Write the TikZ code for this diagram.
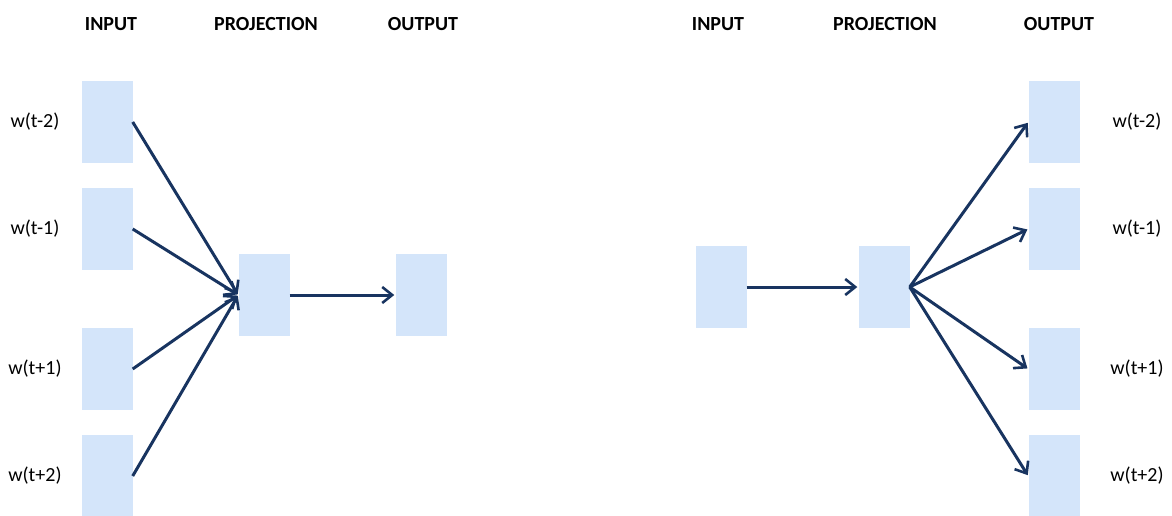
\documentclass[tikz,border=0pt]{standalone}
\usepackage{fontspec}
\setmainfont{Carlito}
\usetikzlibrary{positioning,arrows.meta}
\definecolor{boxblue}{RGB}{212,229,250}
\definecolor{navy}{RGB}{24,52,96}
\tikzset{
  vec/.style={fill=boxblue, minimum width=51pt, minimum height=82pt, inner sep=0pt},
  head/.style={font=\fontsize{20}{24}\selectfont\bfseries},
  word/.style={font=\fontsize{20}{24}\selectfont},
  arr/.style={-{Straight Barb[length=10pt, width=16pt, line width=2.6pt]}, line width=3pt, navy, shorten >=1pt},
}
\begin{document}
\begin{tikzpicture}[x=1pt, y=-1pt]
  \useasboundingbox (0,0) rectangle (1172,516);
  % CBOW
  \node[head] (h1) at (111,24) {INPUT};
  \node[head] (h2) at (266,24) {PROJECTION};
  \node[head] (h3) at (423,24) {OUTPUT};
  \node[vec] (a1) at (107,122) {};
  \node[vec] (a2) at (107,229) {};
  \node[vec] (a3) at (107,369) {};
  \node[vec] (a4) at (107,476) {};
  \node[word] (la1) at (35,122) {w(t-2)};
  \node[word] (la2) at (35,229) {w(t-1)};
  \node[word] (la3) at (35,369) {w(t+1)};
  \node[word] (la4) at (35,476) {w(t+2)};
  \node[vec] (pa) at (264,295) {};
  \node[vec] (oa) at (421,295) {};
  \draw[arr] (a1.east) -- (pa.west);
  \draw[arr] (a2.east) -- (pa.west);
  \draw[arr] (a3.east) -- (pa.west);
  \draw[arr] (a4.east) -- (pa.west);
  \draw[arr] (pa.east) -- (oa.west);
  % Skip-gram
  \node[head] (h4) at (718,24) {INPUT};
  \node[head] (h5) at (885,24) {PROJECTION};
  \node[head] (h6) at (1059,24) {OUTPUT};
  \node[vec] (ib) at (721,287) {};
  \node[vec] (pb) at (884,287) {};
  \node[vec] (b1) at (1054,122) {};
  \node[vec] (b2) at (1054,229) {};
  \node[vec] (b3) at (1054,369) {};
  \node[vec] (b4) at (1054,476) {};
  \node[word] (lb1) at (1137,122) {w(t-2)};
  \node[word] (lb2) at (1137,229) {w(t-1)};
  \node[word] (lb3) at (1137,369) {w(t+1)};
  \node[word] (lb4) at (1137,476) {w(t+2)};
  \draw[arr] (ib.east) -- (pb.west);
  \draw[arr] (pb.east) -- (b1.west);
  \draw[arr] (pb.east) -- (b2.west);
  \draw[arr] (pb.east) -- (b3.west);
  \draw[arr] (pb.east) -- (b4.west);
\end{tikzpicture}
\end{document}
